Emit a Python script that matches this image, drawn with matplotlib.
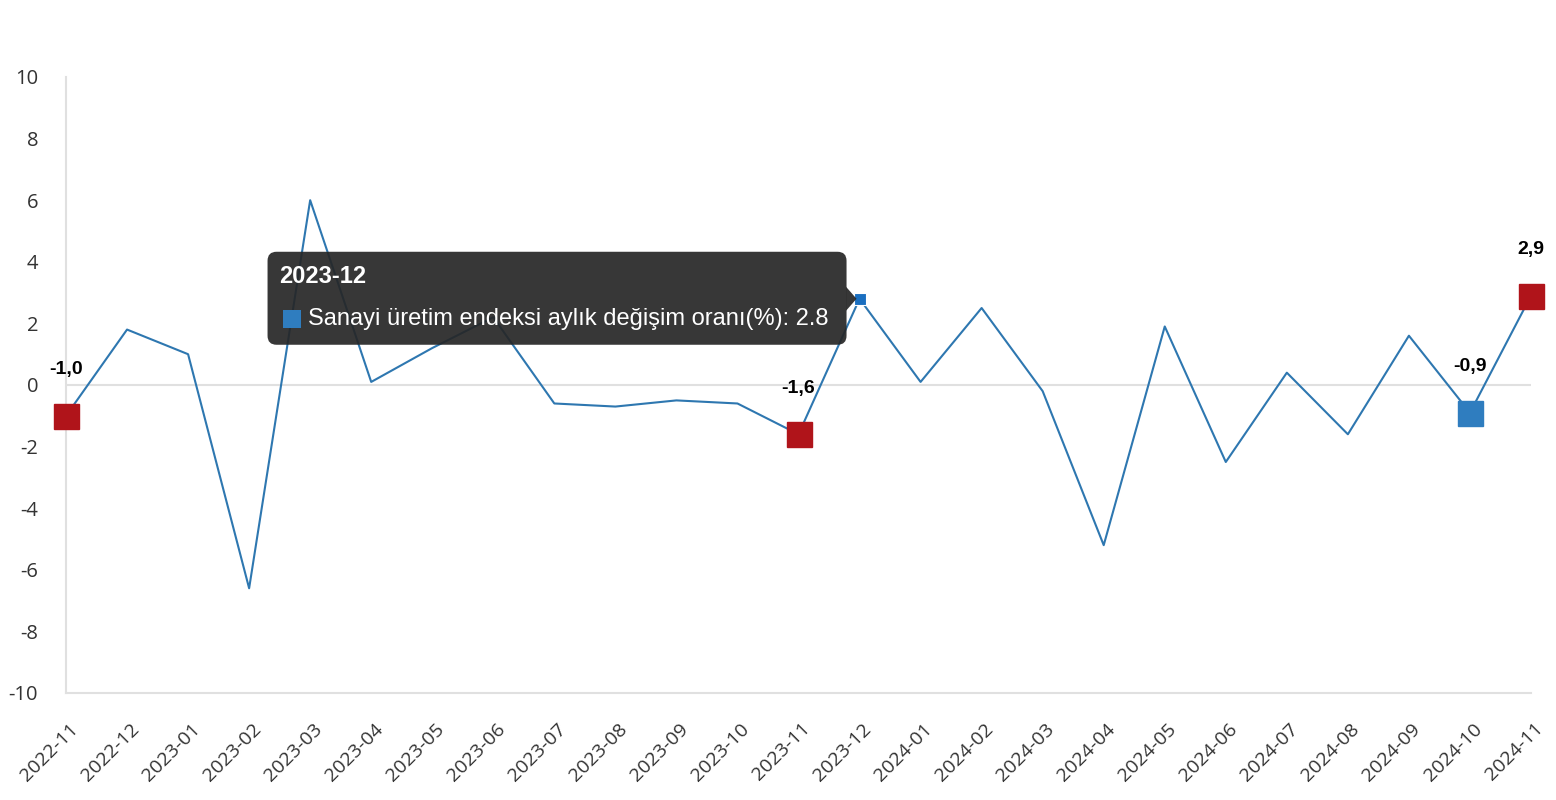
import matplotlib
matplotlib.use("Agg")
import matplotlib.pyplot as plt
import matplotlib.transforms as mtransforms
from matplotlib.patches import FancyBboxPatch, Polygon, Rectangle

months = ["2022-11", "2022-12", "2023-01", "2023-02", "2023-03", "2023-04", "2023-05",
          "2023-06", "2023-07", "2023-08", "2023-09", "2023-10", "2023-11", "2023-12",
          "2024-01", "2024-02", "2024-03", "2024-04", "2024-05", "2024-06", "2024-07",
          "2024-08", "2024-09", "2024-10", "2024-11"]
values = [-1.0, 1.8, 1.0, -6.6, 6.0, 0.1, 1.2, 2.2, -0.6, -0.7, -0.5, -0.6, -1.6, 2.8,
          0.1, 2.5, -0.2, -5.2, 1.9, -2.5, 0.4, -1.6, 1.6, -0.9, 2.9]
red_marked = ["2022-11", "2023-11", "2024-11"]
blue_marked = ["2024-10"]
hover_month = "2023-12"
series_name = "Sanayi üretim endeksi aylık değişim oranı(%)"
yticks = [-10, -8, -6, -4, -2, 0, 2, 4, 6, 8, 10]

LINE = "#2e77b0"
RED = "#b0141a"
BLUE = "#2f7dbf"

fig = plt.figure(figsize=(15.56, 8.0), dpi=100)
ax = fig.add_axes([66 / 1556, 1 - 693 / 800, (1531 - 66) / 1556, (693 - 77) / 800])
x = list(range(len(months)))
ax.plot(x, values, color=LINE, lw=1.5, zorder=3)
ax.set_xlim(0, len(months) - 1)
ax.set_ylim(-10, 10)
ax.axhline(0, color="#e0e0e0", lw=1.5, zorder=1)
for s in ["top", "right"]:
    ax.spines[s].set_visible(False)
for s in ["left", "bottom"]:
    ax.spines[s].set_color("#e0e0e0")
    ax.spines[s].set_linewidth(1.5)
ax.set_yticks(yticks)
ax.set_yticklabels([str(v) for v in yticks], fontsize=14.5, color="#333333", family="Open Sans")
ax.set_xticks(x)
ax.set_xticklabels(months, rotation=45, ha="right", va="center", rotation_mode="anchor",
                   fontsize=14, color="#333333", family="Open Sans")
ax.tick_params(axis="y", length=0, pad=20)
ax.tick_params(axis="x", length=0, pad=0)
shift = mtransforms.ScaledTranslation(0.09, -0.33, fig.dpi_scale_trans)
for lab in ax.get_xticklabels():
    lab.set_transform(lab.get_transform() + shift)

for i, (m, v) in enumerate(zip(months, values)):
    if m in red_marked or m in blue_marked:
        c = RED if m in red_marked else BLUE
        ax.plot([i], [v], marker="s", ms=18, color=c, mec=c, zorder=5, clip_on=False)
        ax.annotate(f"{v:.1f}".replace(".", ","), (i, v), xytext=(0, 33),
                    textcoords="offset points", ha="center", va="center",
                    fontsize=14, fontweight="bold", color="black",
                    family="Liberation Sans", zorder=6, annotation_clip=False)

hi = months.index(hover_month)
hv = values[hi]
ax.plot([hi], [hv], marker="s", ms=8, color="#1a6fc0", mec="white", mew=0.8, zorder=6)

# tooltip in pixel offsets from the hovered point
px, py = ax.transData.transform((hi, hv))
tr = mtransforms.Affine2D().translate(px, py)
box = FancyBboxPatch((-592, -46), 579, 93, boxstyle="round,pad=0,rounding_size=9",
                     transform=tr, facecolor="#262626", edgecolor="none", alpha=0.92,
                     zorder=10, figure=fig)
fig.patches.append(box)
tri = Polygon([(-13.5, 12), (-13.5, -12), (-3, 0)], closed=True, transform=tr,
              facecolor="#262626", edgecolor="none", alpha=0.92, zorder=10, figure=fig)
fig.patches.append(tri)
sq = Rectangle((-577, -29), 18, 18, transform=tr, facecolor=BLUE, edgecolor="none",
               zorder=11, figure=fig)
fig.patches.append(sq)
fig.text(-580, 22, hover_month, transform=tr, color="white", fontsize=17, fontweight="bold",
         family="Liberation Sans", ha="left", va="center", zorder=11)
fig.text(-552, -20, f"{series_name}: {hv}", transform=tr, color="white", fontsize=17,
         family="Liberation Sans", ha="left", va="center", zorder=11)

fig.savefig("out.png", dpi=100, facecolor="white")
